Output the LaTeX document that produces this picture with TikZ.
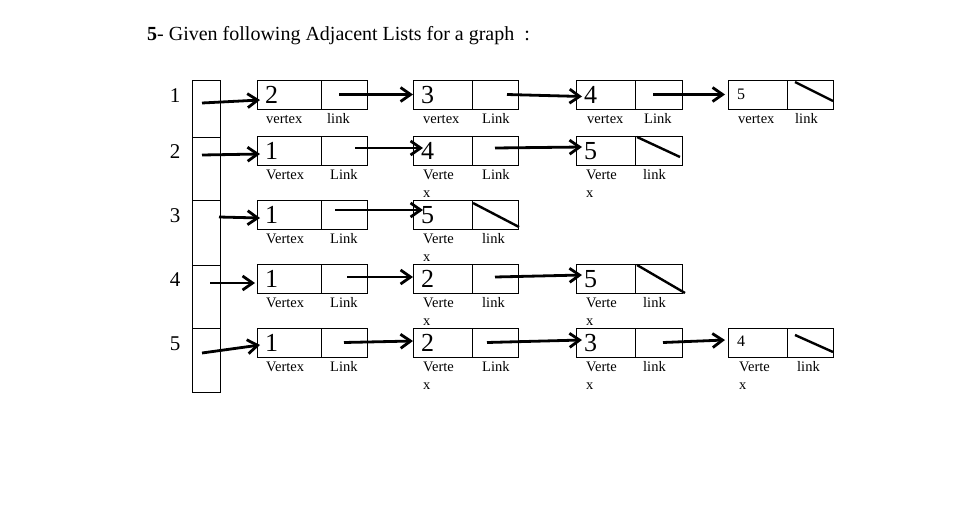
\documentclass[tikz,border=0pt]{standalone}
\usepackage{fontspec}
\setmainfont{Liberation Serif}
\usetikzlibrary{arrows.meta}
\newcommand{\twol}[2]{\begin{tabular}[t]{@{}l@{}}#1\\#2\end{tabular}}
\begin{document}
\begin{tikzpicture}[x=1pt,y=-1pt,
  cell/.style={draw, line width=0.8pt, inner sep=0pt, outer sep=0pt, minimum height=29pt, anchor=north west},
  idx/.style={draw, line width=0.8pt, inner sep=0pt, outer sep=0pt, minimum width=28pt, anchor=north west},
  big/.style={font=\fontsize{26}{26}\selectfont, anchor=base west, inner sep=0pt},
  sml/.style={font=\fontsize{16}{16}\selectfont, anchor=base west, inner sep=0pt},
  lab/.style={font=\fontsize{14.5}{18}\selectfont, anchor=base west, inner sep=0pt},
  num/.style={font=\fontsize{21}{21}\selectfont, anchor=base, inner sep=0pt},
  ttl/.style={font=\fontsize{20}{20}\selectfont, anchor=base west, inner sep=0pt},
  ptr/.style={line width=2.8pt, -{Straight Barb[length=10pt,width=14pt,line width=2.8pt]}},
  nul/.style={line width=2.4pt},
]
\useasboundingbox (0,0) rectangle (962,509);

% title
\node[ttl] (title) at (147,40) {\textbf{5}- Given following Adjacent Lists for a graph \ :};

% index column
\node[idx, minimum height=57pt] (i1) at (192,80) {};
\node[idx, minimum height=63pt] (i2) at (192,137) {};
\node[idx, minimum height=65pt] (i3) at (192,200) {};
\node[idx, minimum height=63pt] (i4) at (192,265) {};
\node[idx, minimum height=64pt] (i5) at (192,328) {};
\node[num] (n1) at (175,102) {1};
\node[num] (n2) at (175,158) {2};
\node[num] (n3) at (175,222) {3};
\node[num] (n4) at (175,286) {4};
\node[num] (n5) at (175,350) {5};

% ---------- row 1 ----------
\node[cell,minimum width=64pt] (r1av) at (257,80) {};
\node[cell,minimum width=46pt] (r1al) at (321,80) {};
\node[cell,minimum width=59pt] (r1bv) at (413,80) {};
\node[cell,minimum width=46pt] (r1bl) at (472,80) {};
\node[cell,minimum width=59pt] (r1cv) at (576,80) {};
\node[cell,minimum width=47pt] (r1cl) at (635,80) {};
\node[cell,minimum width=59pt] (r1dv) at (728,80) {};
\node[cell,minimum width=46pt] (r1dl) at (787,80) {};
\node[big] (d1a) at (265,103) {2};
\node[big] (d1b) at (421,103) {3};
\node[big] (d1c) at (584,103) {4};
\node[sml] (d1d) at (737,99) {5};
\node[lab] (l1av) at (266,123) {vertex};
\node[lab] (l1al) at (327,123) {link};
\node[lab] (l1bv) at (423,123) {vertex};
\node[lab] (l1bl) at (482,123) {Link};
\node[lab] (l1cv) at (587,123) {vertex};
\node[lab] (l1cl) at (644,123) {Link};
\node[lab] (l1dv) at (738,123) {vertex};
\node[lab] (l1dl) at (795,123) {link};

% ---------- row 2 ----------
\node[cell,minimum width=64pt] (r2av) at (257,136) {};
\node[cell,minimum width=46pt] (r2al) at (321,136) {};
\node[cell,minimum width=59pt] (r2bv) at (413,136) {};
\node[cell,minimum width=46pt] (r2bl) at (472,136) {};
\node[cell,minimum width=59pt] (r2cv) at (576,136) {};
\node[cell,minimum width=47pt] (r2cl) at (635,136) {};
\node[big] (d2a) at (265,159) {1};
\node[big] (d2b) at (421,159) {4};
\node[big] (d2c) at (584,159) {5};
\node[lab] (l2av) at (266,179) {Vertex};
\node[lab] (l2al) at (330,179) {Link};
\node[lab] (l2bv) at (423,179) {\twol{Verte}{x}};
\node[lab] (l2bl) at (482,179) {Link};
\node[lab] (l2cv) at (586,179) {\twol{Verte}{x}};
\node[lab] (l2cl) at (643,179) {link};

% ---------- row 3 ----------
\node[cell,minimum width=64pt] (r3av) at (257,200) {};
\node[cell,minimum width=46pt] (r3al) at (321,200) {};
\node[cell,minimum width=59pt] (r3bv) at (413,200) {};
\node[cell,minimum width=46pt] (r3bl) at (472,200) {};
\node[big] (d3a) at (265,223) {1};
\node[big] (d3b) at (421,223) {5};
\node[lab] (l3av) at (266,243) {Vertex};
\node[lab] (l3al) at (330,243) {Link};
\node[lab] (l3bv) at (423,243) {\twol{Verte}{x}};
\node[lab] (l3bl) at (482,243) {link};

% ---------- row 4 ----------
\node[cell,minimum width=64pt] (r4av) at (257,264) {};
\node[cell,minimum width=46pt] (r4al) at (321,264) {};
\node[cell,minimum width=59pt] (r4bv) at (413,264) {};
\node[cell,minimum width=46pt] (r4bl) at (472,264) {};
\node[cell,minimum width=59pt] (r4cv) at (576,264) {};
\node[cell,minimum width=47pt] (r4cl) at (635,264) {};
\node[big] (d4a) at (265,287) {1};
\node[big] (d4b) at (421,287) {2};
\node[big] (d4c) at (584,287) {5};
\node[lab] (l4av) at (266,307) {Vertex};
\node[lab] (l4al) at (330,307) {Link};
\node[lab] (l4bv) at (423,307) {\twol{Verte}{x}};
\node[lab] (l4bl) at (482,307) {link};
\node[lab] (l4cv) at (586,307) {\twol{Verte}{x}};
\node[lab] (l4cl) at (643,307) {link};

% ---------- row 5 ----------
\node[cell,minimum width=64pt] (r5av) at (257,328) {};
\node[cell,minimum width=46pt] (r5al) at (321,328) {};
\node[cell,minimum width=59pt] (r5bv) at (413,328) {};
\node[cell,minimum width=46pt] (r5bl) at (472,328) {};
\node[cell,minimum width=59pt] (r5cv) at (576,328) {};
\node[cell,minimum width=47pt] (r5cl) at (635,328) {};
\node[cell,minimum width=59pt] (r5dv) at (728,328) {};
\node[cell,minimum width=46pt] (r5dl) at (787,328) {};
\node[big] (d5a) at (265,351) {1};
\node[big] (d5b) at (421,351) {2};
\node[big] (d5c) at (584,351) {3};
\node[sml] (d5d) at (737,346) {4};
\node[lab] (l5av) at (266,371) {Vertex};
\node[lab] (l5al) at (330,371) {Link};
\node[lab] (l5bv) at (423,371) {\twol{Verte}{x}};
\node[lab] (l5bl) at (482,371) {Link};
\node[lab] (l5cv) at (586,371) {\twol{Verte}{x}};
\node[lab] (l5cl) at (643,371) {link};
\node[lab] (l5dv) at (739,371) {\twol{Verte}{x}};
\node[lab] (l5dl) at (797,371) {link};

% ---------- index pointers ----------
\draw[ptr] ([xshift=-4pt,yshift=5.5pt]i1.center) -- ([xshift=3pt,yshift=-5.5pt]r1av.west);
\draw[ptr] ([xshift=-4pt,yshift=13.5pt]i2.center) -- ([xshift=3pt,yshift=-3.5pt]r2av.west);
\draw[ptr] ([xshift=13pt,yshift=15.5pt]i3.center) -- ([xshift=3pt,yshift=-3.5pt]r3av.west);
\draw[ptr] ([xshift=4pt,yshift=13.5pt]i4.center) -- ([xshift=-2pt,yshift=-4.5pt]r4av.west);
\draw[ptr] ([xshift=-4pt,yshift=7pt]i5.center) -- ([xshift=3pt,yshift=-2.5pt]r5av.west);

% ---------- list links ----------
\draw[ptr] ([xshift=-5pt]r1al.center) -- (r1bv.west);
\draw[ptr] ([xshift=12pt]r1bl.center) -- ([xshift=6pt,yshift=-2pt]r1cv.west);
\draw[ptr] ([xshift=-5.5pt]r1cl.center) -- ([xshift=-3pt]r1dv.west);
\draw[ptr] ([xshift=11pt,yshift=2.5pt]r2al.center) -- ([xshift=10pt,yshift=2.5pt]r2bv.west);
\draw[ptr] ([yshift=2.5pt]r2bl.center) -- ([xshift=6pt,yshift=3.5pt]r2cv.west);
\draw[ptr] ([xshift=-9pt,yshift=4.5pt]r3al.center) -- ([xshift=10pt,yshift=4.5pt]r3bv.west);
\draw[ptr] ([xshift=3pt,yshift=1.5pt]r4al.center) -- ([yshift=1.5pt]r4bv.west);
\draw[ptr] ([yshift=1.5pt]r4bl.center) -- ([xshift=6pt,yshift=3.5pt]r4cv.west);
\draw[ptr] (r5al.center) -- ([yshift=1.5pt]r5bv.west);
\draw[ptr] ([xshift=-8pt]r5bl.center) -- ([xshift=6pt,yshift=2.5pt]r5cv.west);
\draw[ptr] ([xshift=4.5pt]r5cl.center) -- ([xshift=-3pt,yshift=2.5pt]r5dv.west);

% ---------- null links ----------
\draw[nul] ([xshift=8pt,yshift=-2pt]r1dl.north west) -- ([yshift=-6.5pt]r1dl.east);
\draw[nul] ([xshift=2pt,yshift=-1pt]r2cl.north west) -- ([xshift=-2pt,yshift=8pt]r2cl.south east);
\draw[nul] ([xshift=1pt,yshift=-3pt]r3bl.north west) -- ([xshift=1pt,yshift=2pt]r3bl.south east);
\draw[nul] ([xshift=2pt,yshift=-1pt]r4cl.north west) -- ([xshift=3pt]r4cl.south east);
\draw[nul] ([xshift=8pt,yshift=-7pt]r5dl.north west) -- ([yshift=5pt]r5dl.south east);
\end{tikzpicture}
\end{document}
